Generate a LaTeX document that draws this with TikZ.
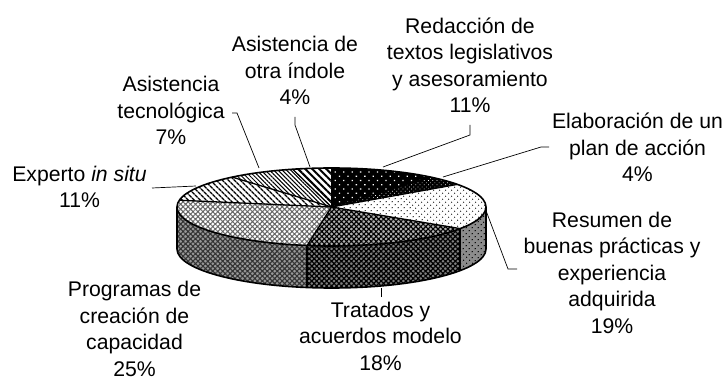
\documentclass[tikz,border=0pt]{standalone}
\usepackage{fontspec}
\setmainfont{Liberation Sans}
\usetikzlibrary{patterns.meta,calc}

\def\pierx{154.5pt}
\def\piery{39pt}
\def\piedepth{42pt}

\tikzstyle{lbl} = [align=center, inner sep=0pt, anchor=base,
    font=\fontsize{21.2}{26.5}\selectfont]
\tikzstyle{lead} = [line width=0.7pt]
\tikzstyle{edge} = [line width=1.6pt, line join=round]
\tikzstyle{cut} = [line width=1.3pt]

% fills of the slices
\tikzstyle{sred} = [preaction={fill=black}, pattern color=white,
    pattern={Dots[angle=45, distance=6pt, radius=0.9pt]}]
\tikzstyle{sela} = [preaction={fill=black}, pattern color=white,
    pattern={Dots[angle=45, distance=3pt, radius=0.5pt]}]
\tikzstyle{sres} = [preaction={fill=white}, pattern color=black!80,
    pattern={Dots[angle=45, distance=4pt, radius=0.75pt]}]
\tikzstyle{sreslow} = [preaction={fill=black!45}, pattern color=black,
    pattern={Dots[angle=45, distance=4pt, radius=0.75pt]}]
\tikzstyle{stra} = [preaction={fill=black!30}, pattern color=black,
    pattern={Hatch[angle=45, distance=3.5pt, line width=1.1pt]}]
\tikzstyle{stralow} = [preaction={fill=black!50}, pattern color=black,
    pattern={Hatch[angle=45, distance=3.5pt, line width=1.2pt]}]
\tikzstyle{spro} = [preaction={fill=white}, pattern color=black!60,
    pattern={Hatch[angle=45, distance=3.5pt, line width=1pt]}]
\tikzstyle{sprolow} = [preaction={fill=black!40}, pattern color=black!80,
    pattern={Hatch[angle=45, distance=3.5pt, line width=1.1pt]}]
\tikzstyle{sexp} = [preaction={fill=white}, pattern color=black,
    pattern={Lines[angle=-45, distance=4pt, line width=1.5pt]}]
\tikzstyle{stec} = [preaction={fill=white}, pattern color=black,
    pattern={Lines[angle=-45, distance=3pt, line width=1pt]}]
\tikzstyle{sotr} = [preaction={fill=white}, pattern color=black,
    pattern={Lines[angle=-45, distance=5pt, line width=2pt]}]

% point on the rim of the top face
\newcommand{\rim}[1]{($(c)+({154.5*cos(#1)},{39*sin(#1)})$)}
\newcommand{\topslice}[3]{%
  \path[#3] (c) -- \rim{#1}
    arc[start angle=#1, end angle=#2, x radius=\pierx, y radius=\piery] -- cycle;}
\newcommand{\sideslice}[3]{%
  \path[#3] \rim{#1}
    arc[start angle=#1, end angle=#2, x radius=\pierx, y radius=\piery]
    -- ++(0pt,-\piedepth)
    arc[start angle=#2, end angle=#1, x radius=\pierx, y radius=\piery] -- cycle;}

\begin{document}
\begin{tikzpicture}[x=1pt, y=1pt]
    \useasboundingbox (0,0) rectangle (727,380);
    \coordinate (c) at (331.5,173);

    % side of the pie
    \sideslice{-180}{-99.09}{sprolow}
    \sideslice{-99.09}{-33.64}{stralow}
    \sideslice{-33.64}{0}{sreslow}
    \draw[edge] \rim{180} -- ++(0pt,-\piedepth)
        arc[start angle=180, end angle=360, x radius=\pierx, y radius=\piery]
        -- ++(0pt,\piedepth);
    \foreach \a in {-99.09,-33.64}
        \draw[cut] \rim{\a} -- ++(0pt,-\piedepth);

    % top of the pie
    \topslice{90}{50}{sred}
    \topslice{50}{35.45}{sela}
    \topslice{35.45}{-33.64}{sres}
    \topslice{-33.64}{-99.09}{stra}
    \topslice{-99.09}{-190}{spro}
    \topslice{-190}{-230}{sexp}
    \topslice{-230}{-255.45}{stec}
    \topslice{-255.45}{-270}{sotr}
    \foreach \a in {90,50,35.45,-33.64,-99.09,-190,-230,-255.45}
        \draw[cut] (c) -- \rim{\a};
    \draw[edge] (c) ellipse[x radius=\pierx, y radius=\piery];

    % labels (anchored at the baseline of their last line)
    \node (l1) [lbl] at (470,267) {Redacción de\\textos legislativos\\y asesoramiento\\11\%};
    \node (l2) [lbl] at (637.5,198) {Elaboración de un\\plan de acción\\4\%};
    \node (l3) [lbl] at (612,47) {Resumen de\\buenas prácticas y\\experiencia\\adquirida\\19\%};
    \node (l4) [lbl] at (380.5,10) {Tratados y\\acuerdos modelo\\18\%};
    \node (l5) [lbl] at (134.5,4) {Programas de\\creación de\\capacidad\\25\%};
    \node (l6) [lbl] at (79.5,172) {Experto \textit{in situ}\\11\%};
    \node (l7) [lbl] at (171,235) {Asistencia\\tecnológica\\7\%};
    \node (l8) [lbl] at (295,275) {Asistencia de\\otra índole\\4\%};

    % leader lines
    \coordinate (q1) at (470,255); \coordinate (p1) at (383,213);
    \coordinate (q2) at (549,233); \coordinate (p2) at (443,203);
    \coordinate (q3) at (517,111); \coordinate (p3) at (485,172);
    \coordinate (q4) at (381,83);  \coordinate (p4) at (381,92);
    \coordinate (q6) at (152,192); \coordinate (p6) at (196,194);
    \coordinate (q7) at (232,267); \coordinate (p7) at (259,212);
    \coordinate (q8) at (295,263); \coordinate (p8) at (310,213);
    \draw [lead] (q1) -- ++(0,-10) -- (p1);
    \draw [lead] (q2) -- ++(-8,0) -- (p2);
    \draw [lead] (q3) -- ++(-9,0) -- (p3);
    \draw [lead] (q4) -- (p4);
    \draw [lead] (q6) -- (p6);
    \draw [lead] (q7) -- ++(5,0) -- (p7);
    \draw [lead] (q8) -- ++(0,-8) -- (p8);
\end{tikzpicture}
\end{document}
